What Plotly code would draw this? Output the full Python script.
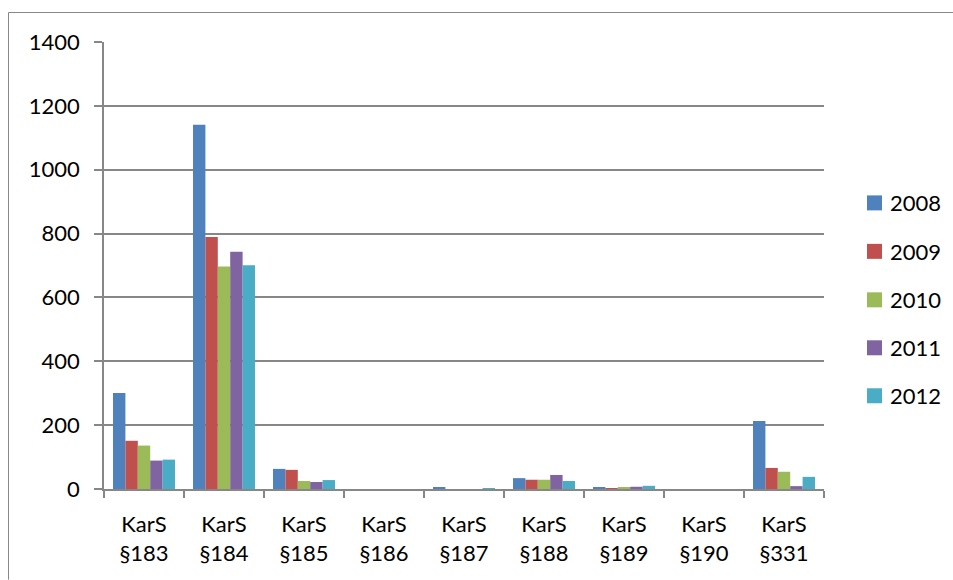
import plotly.graph_objects as go

categories = ["KarS<br>§183", "KarS<br>§184", "KarS<br>§185", "KarS<br>§186", "KarS<br>§187",
              "KarS<br>§188", "KarS<br>§189", "KarS<br>§190", "KarS<br>§331"]
years = ["2008", "2009", "2010", "2011", "2012"]
v2008 = [301, 1141, 63, 0, 4, 34, 4, 0, 213]
v2009 = [151, 789, 60, 0, 0, 29, 2, 0, 66]
v2010 = [136, 697, 25, 0, 0, 29, 4, 0, 54]
v2011 = [89, 743, 22, 0, 0, 44, 7, 0, 9]
v2012 = [92, 701, 28, 0, 1, 25, 10, 0, 38]
series = [v2008, v2009, v2010, v2011, v2012]
colors = ["#4F81BD", "#C0504D", "#9BBB59", "#8064A2", "#4BACC6"]

W, H = 953, 580
# plot area in window pixels
L, R, T, B = 104, 824, 42, 489.3

fig = go.Figure()
for name, vals, c in zip(years, series, colors):
    fig.add_trace(go.Bar(name=name, x=categories, y=vals, marker_color=c,
                         marker_line_width=0, showlegend=False))

font = "Lato, 'Open Sans', sans-serif"
grid = "#878787"

def px_x(p):  # window px -> paper
    return (p - L) / (R - L)

def px_y(p):
    return (B - p) / (B - T)

# chart-area border (only left and top edges are visible in the reference)
fig.add_shape(type="line", xref="paper", yref="paper",
              x0=px_x(8.5), x1=px_x(8.5), y0=px_y(12.5), y1=px_y(H),
              line=dict(color=grid, width=1), layer="below")
fig.add_shape(type="line", xref="paper", yref="paper",
              x0=px_x(8.5), x1=px_x(W), y0=px_y(12.5), y1=px_y(12.5),
              line=dict(color=grid, width=1), layer="below")

# legend drawn manually (Excel-style)
leg_y = [203, 251.5, 300, 348, 396]
for name, c, yy in zip(years, colors, leg_y):
    fig.add_shape(type="rect", xref="paper", yref="paper",
                  x0=px_x(867), x1=px_x(882), y0=px_y(yy + 7.5), y1=px_y(yy - 7.5),
                  line=dict(width=0), fillcolor=c)
    fig.add_annotation(xref="paper", yref="paper", x=px_x(888), y=px_y(yy),
                       xanchor="left", yanchor="middle", text=name, showarrow=False,
                       font=dict(size=22, color="black"))

fig.update_layout(
    width=W, height=H,
    margin=dict(l=L, r=W - R, t=T, b=H - B, autoexpand=False),
    paper_bgcolor="white", plot_bgcolor="white",
    barmode="group", bargap=0.225, bargroupgap=0,
    font=dict(family=font, size=22, color="black"),
    showlegend=False,
    xaxis=dict(showline=True, linecolor=grid, linewidth=1.5, ticks="outside",
               tickson="boundaries", ticklen=7, tickcolor=grid, tickwidth=1.5,
               showgrid=False, tickfont=dict(size=22), ticklabelstandoff=15,
               fixedrange=True),
    yaxis=dict(range=[0, 1400], dtick=200, showgrid=True, gridcolor=grid, gridwidth=1.5,
               showline=True, linecolor=grid, linewidth=1.5, ticks="outside", ticklen=8,
               tickcolor=grid, tickwidth=1.5, zeroline=False, tickfont=dict(size=22),
               ticklabelstandoff=10, fixedrange=True),
)

fig.write_html("out.html", config={"displayModeBar": False},
               post_script="document.body.style.margin='0';document.body.style.overflow='hidden';")
